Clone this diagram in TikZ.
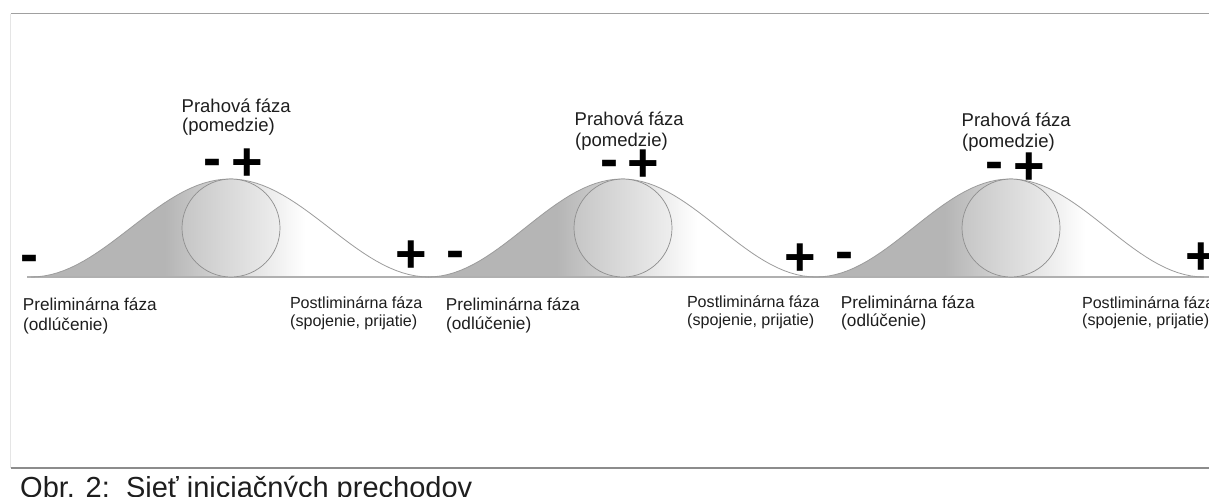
\documentclass[tikz,border=0pt]{standalone}
\usepackage{fontspec}
\setmainfont{Liberation Sans}
\definecolor{fillg}{HTML}{B5B5B5}
\definecolor{curveg}{HTML}{9C9C9C}
\definecolor{baseg}{HTML}{B0B0B0}
\definecolor{circg}{HTML}{8E8E8E}
\definecolor{circl}{HTML}{C6C6C6}
\definecolor{circr}{HTML}{EEEEEE}
\definecolor{frameg}{HTML}{A0A0A0}
\definecolor{txt}{HTML}{1E1E1E}
\begin{document}
\begin{tikzpicture}[x=1pt,y=-1pt,
  toplbl/.style={anchor=base west,inner sep=0pt,text=txt,font=\fontsize{18.5}{22}\selectfont},
  prelbl/.style={anchor=base west,inner sep=0pt,text=txt,font=\fontsize{17.2}{20}\selectfont},
  postlbl/.style={anchor=base west,inner sep=0pt,text=txt,font=\fontsize{16.1}{19}\selectfont},
  sign/.style={anchor=base,inner sep=0pt,text=black,text height=0.6em,text depth=0pt,font=\fontsize{54}{60}\selectfont\bfseries},
  capt/.style={anchor=base west,inner sep=0pt,text=txt,font=\fontsize{29}{34}\selectfont},
  curveline/.style={draw=curveg,line width=0.8pt},
  ball/.style={circle,minimum size=98pt,inner sep=0pt,draw=circg,line width=0.7pt,left color=circl,right color=circr}]
\useasboundingbox (0,0) rectangle (1209,496);
\clip (0,0) rectangle (1209,496);
\fill[white] (0,0) rectangle (1209,496);
% frame
\coordinate (ftl) at (10.5,13.5);
\coordinate (ftr) at (1209,13.5);
\coordinate (fbl) at (10.5,468);
\coordinate (fbr) at (1209,468);
\draw[frameg,line width=1.2pt] (ftl) -- (ftr);
\draw[black!10,line width=0.8pt] (ftl) -- (fbl);
\draw[black!45,line width=1.6pt] (fbl) -- (fbr);
% bump fills
\foreach \c/\w in {230/199, 622/194, 1010/194}{
  \begin{scope}
    \clip plot[domain=-1:1,samples=61] ({\c+\w*\x},{277-49*(1+cos(180*\x))}) -- cycle;
    \fill[fillg] (\c-\w-2,170) rectangle (\c-65,278);
    \shade[left color=fillg,right color=white] (\c-65.5,170) rectangle (\c+75,278);
  \end{scope}
}
% baseline
\coordinate (bl0) at (27,277);
\coordinate (bl1) at (1209,277);
\draw[baseg,line width=1.2pt] (bl0) -- (bl1);
% bump outlines and balls
\foreach \c/\w/\n in {230/199/1, 622/194/2, 1010/194/3}{
  \draw[curveline] plot[domain=-1:1,samples=61] ({\c+\w*\x},{277-49*(1+cos(180*\x))});
  \node[ball] (ball\n) at (\c+1,228) {};
}
% signs bump 1
\node[sign] (m1l) at (29.5,272) {-};
\node[sign] (m1t) at (212.5,176) {-};
\node[sign] (p1t) at (247,180.5) {+};
\node[sign] (p1r) at (411.5,272.5) {+};
% signs bump 2
\node[sign] (m2l) at (455.5,268) {-};
\node[sign] (m2t) at (609,177) {-};
\node[sign] (p2t) at (643.5,181.5) {+};
\node[sign] (p2r) at (800,275) {+};
% signs bump 3
\node[sign] (m3l) at (844.5,269) {-};
\node[sign] (m3t) at (994.5,179) {-};
\node[sign] (p3t) at (1029.5,184) {+};
\node[sign] (p3r) at (1201.5,274) {+};
% top labels
\node[toplbl] (t1a) at (181.5,112.7) {Prahová fáza};
\node[toplbl] (t1b) at (182,131.7) {(pomedzie)};
\node[toplbl] (t2a) at (574.5,125.7) {Prahová fáza};
\node[toplbl] (t2b) at (575,146.2) {(pomedzie)};
\node[toplbl] (t3a) at (961.5,126.7) {Prahová fáza};
\node[toplbl] (t3b) at (962,147.5) {(pomedzie)};
% bottom labels
\node[prelbl] (pre1a) at (22.7,310.7) {Preliminárna fáza};
\node[prelbl] (pre1b) at (23,330) {(odlúčenie)};
\node[postlbl] (post1a) at (289.8,308.7) {Postliminárna fáza};
\node[postlbl] (post1b) at (290,326.5) {(spojenie, prijatie)};
\node[prelbl] (pre2a) at (445.7,310) {Preliminárna fáza};
\node[prelbl] (pre2b) at (446,329.3) {(odlúčenie)};
\node[postlbl] (post2a) at (686.8,307.7) {Postliminárna fáza};
\node[postlbl] (post2b) at (687,325.7) {(spojenie, prijatie)};
\node[prelbl] (pre3a) at (840.7,308.3) {Preliminárna fáza};
\node[prelbl] (pre3b) at (841,326.7) {(odlúčenie)};
\node[postlbl] (post3a) at (1081.8,308.3) {Postliminárna fáza};
\node[postlbl] (post3b) at (1082,325.5) {(spojenie, prijatie)};
% caption
\node[capt] (cap) at (20,497) {Obr. 2:\ \ Sieť iniciačných prechodov};
\end{tikzpicture}
\end{document}
